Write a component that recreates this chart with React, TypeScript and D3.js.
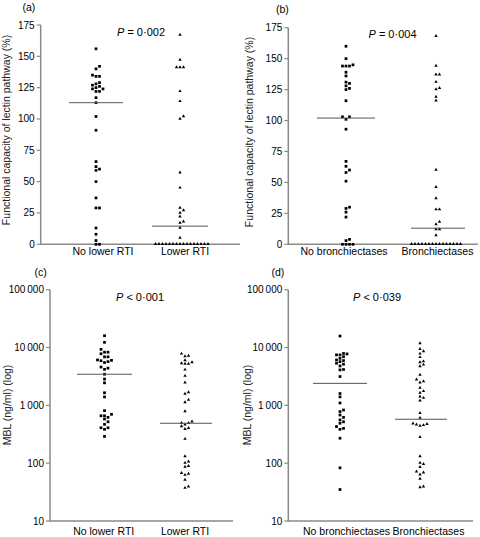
import React from "react";
import * as d3 from "d3";

// ---------- data ----------
const categoriesRTI = ["No lower RTI", "Lower RTI"];
const categoriesBronch = ["No bronchiectases", "Bronchiectases"];

const lectinNoLowerRTI = [156, 142, 140, 135, 134, 134, 129, 128, 127, 126, 125, 124, 124, 122, 122, 117, 113, 102, 91, 66, 62, 60, 59, 50, 37, 29, 29, 13, 8, 3, 0, 0];
const lectinLowerRTI = [167, 147, 141, 141, 141, 122, 114, 102, 100, 57, 45, 29, 27, 25, 22, 18, 17, 13, 5, 0, 0, 0, 0, 0, 0, 0, 0, 0, 0, 0, 0, 0, 0, 0, 0];
const lectinNoBronch = [160, 150, 145, 144, 144, 144, 139, 136, 131, 130, 128, 126, 125, 116, 103, 103, 101, 93, 67, 63, 60, 58, 51, 30, 29, 26, 22, 4, 3, 0, 0, 0, 0];
const lectinBronch = [168, 144, 137, 137, 131, 126, 125, 119, 116, 60, 46, 37, 28, 28, 18, 16, 12, 12, 7, 0, 0, 0, 0, 0, 0, 0, 0, 0, 0, 0, 0, 0, 0, 0];

const mblNoLowerRTI = [16000, 12300, 9300, 8300, 8300, 7800, 6900, 6900, 6100, 6000, 5900, 5700, 5500, 4600, 4400, 4200, 3450, 2850, 2450, 1650, 1400, 810, 700, 660, 660, 620, 580, 520, 470, 410, 410, 385, 290];
const mblLowerRTI = [7750, 7150, 7000, 5950, 5500, 5300, 5200, 5200, 4100, 3200, 2450, 1660, 1570, 1240, 1120, 780, 520, 490, 490, 460, 430, 400, 385, 260, 130, 106, 100, 88, 86, 67, 65, 62, 51, 39, 37];
const mblNoBronch = [15800, 7900, 7750, 7450, 7450, 6950, 6500, 6100, 5950, 5700, 5350, 5150, 4800, 4170, 4100, 3150, 1600, 1400, 1100, 830, 780, 680, 620, 560, 520, 490, 430, 400, 385, 270, 83, 35];
const mblBronch = [11700, 9300, 8500, 7750, 6750, 5700, 5500, 5000, 4700, 3350, 2770, 2570, 2450, 1990, 1740, 1630, 1410, 1330, 1200, 730, 600, 480, 470, 460, 450, 440, 280, 130, 100, 96, 85, 71, 68, 63, 53, 39, 38];

const mediansA = [113, 14.5];
const mediansB = [102, 13];
const mediansC = [3450, 490];
const mediansD = [2400, 575];

const lectinTicks = [0, 25, 50, 75, 100, 125, 150, 175];
const mblTicks = [10, 100, 1000, 10000, 100000];

const pValues = ["0·002", "0·004", "< 0·001", "< 0·039"];
const panelLetters = ["(a)", "(b)", "(c)", "(d)"];
const yTitles = ["Functional capacity of lectin pathway (%)", "MBL (ng/ml) (log)"];

// ---------- helpers ----------
const FONT = "'Liberation Sans', Arial, Helvetica, sans-serif";

function swarm(values: number[], y: (v: number) => number, cx: number, d: number, minDy: number) {
  const pts = values.map((v) => ({ v, y: y(v), x: cx })).sort((a, b) => b.y - a.y);
  const placed: { x: number; y: number; v: number }[] = [];
  for (const p of pts) {
    let k = 0;
    while (true) {
      const off = k === 0 ? 0 : (k % 2 === 1 ? 1 : -1) * Math.ceil(k / 2) * d;
      const x = cx + off;
      const ok = placed.every((q) => Math.abs(q.y - p.y) >= minDy || Math.abs(q.x - x) >= d - 0.01);
      if (ok) {
        placed.push({ x, y: p.y, v: p.v });
        break;
      }
      k++;
    }
  }
  return placed;
}

const fmtLog = (v: number) => d3.format(",")(v).replace(/,/g, "\u2009");

type PanelProps = {
  letter: string;
  letterPos: [number, number];
  pText: string;
  pPos: [number, number];
  yTitle: string;
  yTitlePos: [number, number];
  axisX: number;
  xRight: number;
  yScale: any;
  ticks: number[];
  tickFmt: (v: number) => string;
  categories: string[];
  centers: [number, number];
  labelCenters: [number, number];
  labelY: number;
  groups: number[][];
  medians: number[];
  medianHalf: number[];
  medianOffset: number[];
};

function Panel(p: PanelProps) {
  const x = d3.scalePoint<string>().domain(p.categories).range(p.centers);
  const [y0, y1] = p.yScale.range();
  const sq = d3.symbol(d3.symbolSquare, 7.5)() as string;
  const tri = d3.symbol(d3.symbolTriangle, 5)() as string;
  return (
    <g>
      <text x={p.letterPos[0]} y={p.letterPos[1]} fontSize={10.5} fontFamily={FONT}>{p.letter}</text>
      <text x={p.pPos[0]} y={p.pPos[1]} fontSize={11} fontFamily={FONT} textAnchor="middle">
        <tspan fontStyle="italic">P</tspan>
        <tspan>{" " + (p.pText.startsWith("<") ? p.pText : "= " + p.pText)}</tspan>
      </text>
      <text
        transform={`translate(${p.yTitlePos[0]},${p.yTitlePos[1]}) rotate(-90)`}
        fontSize={10.5}
        fontFamily={FONT}
        textAnchor="middle"
        fill="#222"
      >
        {p.yTitle}
      </text>
      {/* axes */}
      <line x1={p.axisX} x2={p.axisX} y1={y0} y2={y1} stroke="#8a8a8a" strokeWidth={1.5} />
      <line x1={p.axisX - 0.75} x2={p.xRight} y1={y0} y2={y0} stroke="#8a8a8a" strokeWidth={1.5} />
      {p.ticks.map((t) => (
        <g key={t}>
          <line x1={p.axisX - 4} x2={p.axisX} y1={p.yScale(t)} y2={p.yScale(t)} stroke="#8a8a8a" strokeWidth={1.2} />
          <text x={p.axisX - 6} y={p.yScale(t) + 3.5} fontSize={10} fontFamily={FONT} textAnchor="end">
            {p.tickFmt(t)}
          </text>
        </g>
      ))}
      {p.categories.map((c, i) => (
        <text key={c} x={p.labelCenters[i]} y={p.labelY} fontSize={10.5} fontFamily={FONT} textAnchor="middle">
          {c}
        </text>
      ))}
      {p.groups.map((vals, gi) => {
        const cx = x(p.categories[gi]) as number;
        const pts = swarm(vals, (v) => p.yScale(v), cx, 3.5, 3.2);
        return (
          <g key={gi}>
            {pts.map((pt, i) => (
              <path key={i} d={gi === 0 ? sq : tri} transform={`translate(${pt.x},${gi === 0 ? pt.y : pt.y - 0.3})`} fill="#000" />
            ))}
            <line
              x1={cx + p.medianOffset[gi] - p.medianHalf[gi]}
              x2={cx + p.medianOffset[gi] + p.medianHalf[gi]}
              y1={p.yScale(p.medians[gi])}
              y2={p.yScale(p.medians[gi])}
              stroke="#555"
              strokeWidth={1}
            />
          </g>
        );
      })}
    </g>
  );
}

export default function App() {
  const yA = d3.scaleLinear().domain([0, 175]).range([244.3, 25]);
  const yB = d3.scaleLinear().domain([0, 175]).range([244.3, 27.7]);
  const yC = d3.scaleLog().domain([10, 100000]).range([521, 289.7]);
  const yD = d3.scaleLog().domain([10, 100000]).range([521, 289.7]);
  const linFmt = (v: number) => String(v);
  return (
    <svg width={480} height={537} style={{ position: "absolute", left: 0, top: 0, background: "#fff" }}>
      <Panel
        letter={panelLetters[0]}
        letterPos={[22.5, 11]}
        pText={pValues[0]}
        pPos={[141, 36]}
        yTitle={yTitles[0]}
        yTitlePos={[10, 130]}
        axisX={40.7}
        xRight={240}
        yScale={yA}
        ticks={lectinTicks}
        tickFmt={linFmt}
        categories={categoriesRTI}
        centers={[96, 180]}
        labelCenters={[103, 185]}
        labelY={255}
        groups={[lectinNoLowerRTI, lectinLowerRTI]}
        medians={mediansA}
        medianHalf={[27, 28]}
        medianOffset={[0, 0]}
      />
      <Panel
        letter={panelLetters[1]}
        letterPos={[276, 13]}
        pText={pValues[1]}
        pPos={[392.5, 37.5]}
        yTitle={yTitles[0]}
        yTitlePos={[253, 132]}
        axisX={288.3}
        xRight={478}
        yScale={yB}
        ticks={lectinTicks}
        tickFmt={linFmt}
        categories={categoriesBronch}
        centers={[346, 436]}
        labelCenters={[344, 437.5]}
        labelY={255}
        groups={[lectinNoBronch, lectinBronch]}
        medians={mediansB}
        medianHalf={[29, 27]}
        medianOffset={[0, 2]}
      />
      <Panel
        letter={panelLetters[2]}
        letterPos={[34.5, 276]}
        pText={pValues[2]}
        pPos={[140, 301]}
        yTitle={yTitles[1]}
        yTitlePos={[11, 405]}
        axisX={50}
        xRight={233}
        yScale={yC}
        ticks={mblTicks}
        tickFmt={fmtLog}
        categories={categoriesRTI}
        centers={[104.5, 185]}
        labelCenters={[103.7, 185]}
        labelY={535}
        groups={[mblNoLowerRTI, mblLowerRTI]}
        medians={mediansC}
        medianHalf={[27.5, 26]}
        medianOffset={[0, 1]}
      />
      <Panel
        letter={panelLetters[3]}
        letterPos={[271.5, 276]}
        pText={pValues[3]}
        pPos={[377, 301]}
        yTitle={yTitles[1]}
        yTitlePos={[251, 405]}
        axisX={288.3}
        xRight={473}
        yScale={yD}
        ticks={mblTicks}
        tickFmt={fmtLog}
        categories={categoriesBronch}
        centers={[340, 420]}
        labelCenters={[346.5, 428.5]}
        labelY={535}
        groups={[mblNoBronch, mblBronch]}
        medians={mediansD}
        medianHalf={[27, 26]}
        medianOffset={[0, 1]}
      />
    </svg>
  );
}
